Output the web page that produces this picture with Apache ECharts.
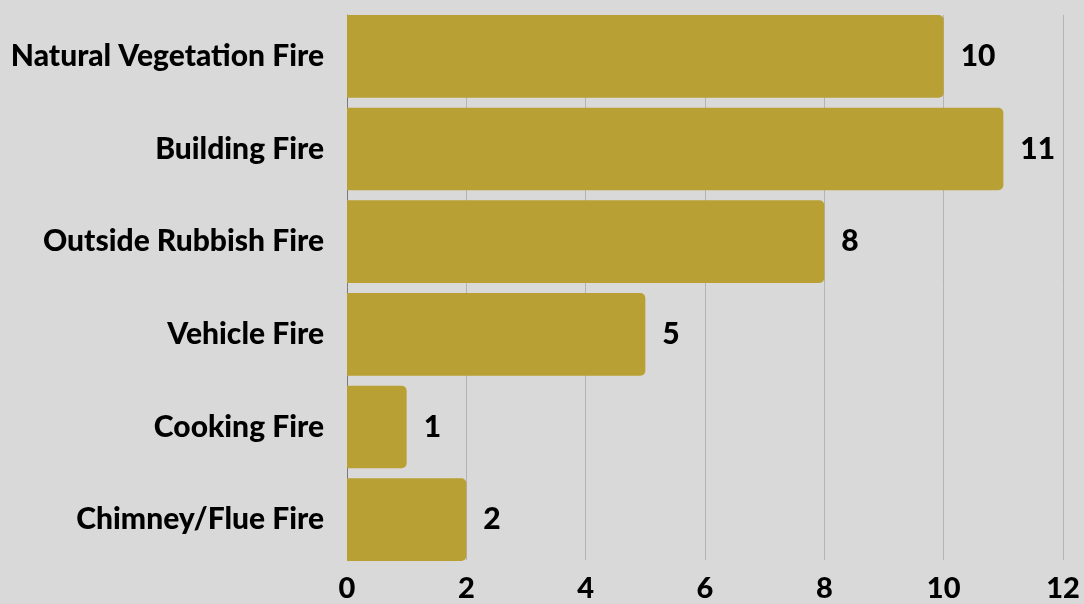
<!DOCTYPE html>
<html>
<head>
<meta charset="utf-8">
<script src="https://cdn.jsdelivr.net/npm/echarts@6/dist/echarts.min.js"></script>
<style>
html,body{margin:0;padding:0;background:#d9d9d9;}
#c{width:1084px;height:604px;}
</style>
</head>
<body>
<div id="c"></div>
<script>
const categories = ["Natural Vegetation Fire","Building Fire","Outside Rubbish Fire","Vehicle Fire","Cooking Fire","Chimney/Flue Fire"];
const values = [10, 11, 8, 5, 1, 2];
const xTicks = [0, 2, 4, 6, 8, 10, 12];

const FONT = 'Lato';
const W = 900;
const chart = echarts.init(document.getElementById('c'));
chart.setOption({
  backgroundColor: '#d9d9d9',
  animation: false,
  grid: [
    {left: 347, right: 21, top: 10, bottom: 38},
    {left: 347, right: 21, top: 15, bottom: 44}
  ],
  xAxis: [
    {gridIndex: 0, type: 'value', min: xTicks[0], max: xTicks[xTicks.length-1], interval: 2,
     show: false},
    {gridIndex: 1, type: 'value', min: xTicks[0], max: xTicks[xTicks.length-1], interval: 2,
     axisLine: {show: false}, axisTick: {show: false},
     splitLine: {show: true, lineStyle: {color: '#b3b3b3', width: 1}},
     axisLabel: {color: '#000', fontFamily: FONT, fontWeight: W, fontSize: 29, margin: 14,
       formatter: v => xTicks.includes(v) ? String(v) : ''}}
  ],
  yAxis: [
    {gridIndex: 0, type: 'category', data: categories, inverse: true,
     axisLine: {show: false}, axisTick: {show: false}, splitLine: {show: false},
     axisLabel: {color: '#000', fontFamily: FONT, fontWeight: W, fontSize: 30, margin: 23}},
    {gridIndex: 1, type: 'category', data: categories, inverse: true,
     axisLine: {show: true, lineStyle: {color: '#7a7a7a', width: 1}},
     axisTick: {show: false}, axisLabel: {show: false}, splitLine: {show: false}}
  ],
  series: [{
    type: 'bar',
    xAxisIndex: 0, yAxisIndex: 0,
    data: values,
    barCategoryGap: '10.8%',
    itemStyle: {color: '#b8a035', borderRadius: [0, 5, 5, 0]},
    label: {show: true, position: 'right', distance: 17, color: '#000',
      fontFamily: FONT, fontWeight: W, fontSize: 30},
    z: 3
  }]
});
</script>
</body>
</html>
